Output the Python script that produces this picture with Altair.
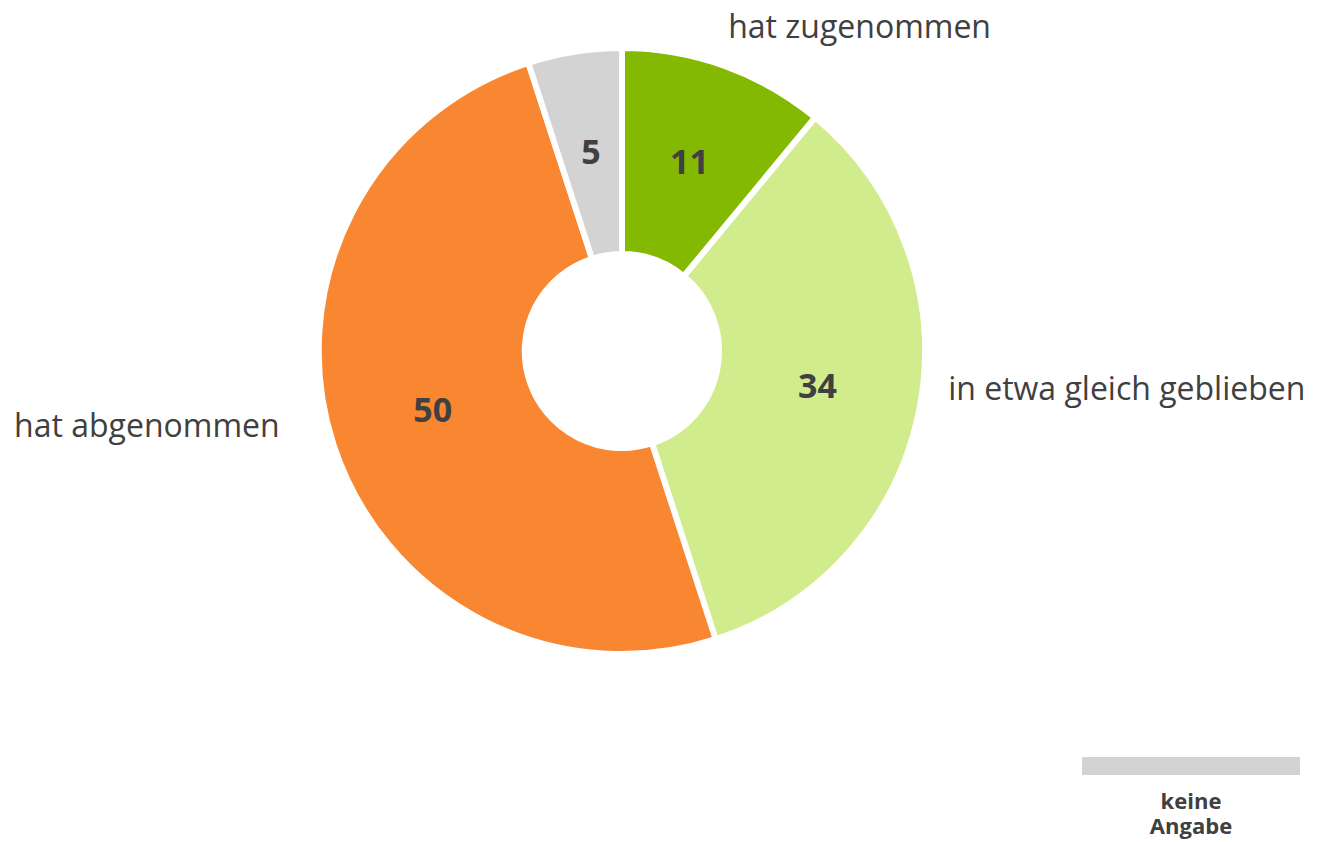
import altair as alt
import pandas as pd

categories = ["hat zugenommen", "in etwa gleich geblieben", "hat abgenommen", "keine Angabe"]
values = [11, 34, 50, 5]
colors = ["#83B900", "#D1EC8C", "#F98731", "#D3D3D3"]
order = [1, 2, 3, 4]

df = pd.DataFrame({"kategorie": categories, "wert": values, "ord": order})

CX, CY = 614, 343
FONT = "Open Sans"
TXT = "#404040"

color_scale = alt.Scale(domain=categories, range=colors)

base = alt.Chart(df).encode(
    theta=alt.Theta("wert:Q", stack=True),
    order=alt.Order("ord:Q"),
)

arcs = base.mark_arc(
    outerRadius=303, innerRadius=97, stroke="white", strokeWidth=6
).encode(
    x=alt.value(CX), y=alt.value(CY),
    color=alt.Color("kategorie:N", scale=color_scale, legend=None),
)

nums = base.mark_text(
    radius=199, font=FONT, fontSize=34, fontWeight="bold", color=TXT
).encode(
    x=alt.value(CX), y=alt.value(CY),
    text=alt.Text("wert:Q"),
)

def outer_label(cat, radius, align, dx, dy):
    return base.mark_text(
        radius=radius, font=FONT, fontSize=32, color=TXT, align=align, dx=dx, dy=dy
    ).encode(
        x=alt.value(CX), y=alt.value(CY),
        text="lbl:N",
    ).transform_calculate(
        lbl=f"datum.kategorie == '{cat}' ? datum.kategorie : ''"
    )

lab1 = outer_label("hat zugenommen", 340, "left", -9, -3)
lab2 = outer_label("in etwa gleich geblieben", 330, "left", 2, -23)
lab3 = outer_label("hat abgenommen", 340, "right", -19, -29)

# legend entry for "keine Angabe"
leg_df = pd.DataFrame({"kategorie": ["keine Angabe"], "txt": [["keine", "Angabe"]]})
leg_rect = alt.Chart(leg_df).mark_rect().encode(
    x=alt.value(1074), x2=alt.value(1292), y=alt.value(749), y2=alt.value(767),
    color=alt.Color("kategorie:N", scale=color_scale, legend=None),
)
leg_text = alt.Chart(leg_df).mark_text(
    font=FONT, fontSize=22, fontWeight="bold", color=TXT, baseline="alphabetic", lineHeight=25
).encode(
    x=alt.value(1183), y=alt.value(801), text="txt",
)

chart = alt.layer(arcs, nums, lab1, lab2, lab3, leg_rect, leg_text).properties(
    width=1304, height=834, padding=0, autosize=alt.AutoSizeParams(type="none")
).configure_view(stroke=None)

chart.save("out.html", embed_options={"renderer": "svg", "actions": False})
